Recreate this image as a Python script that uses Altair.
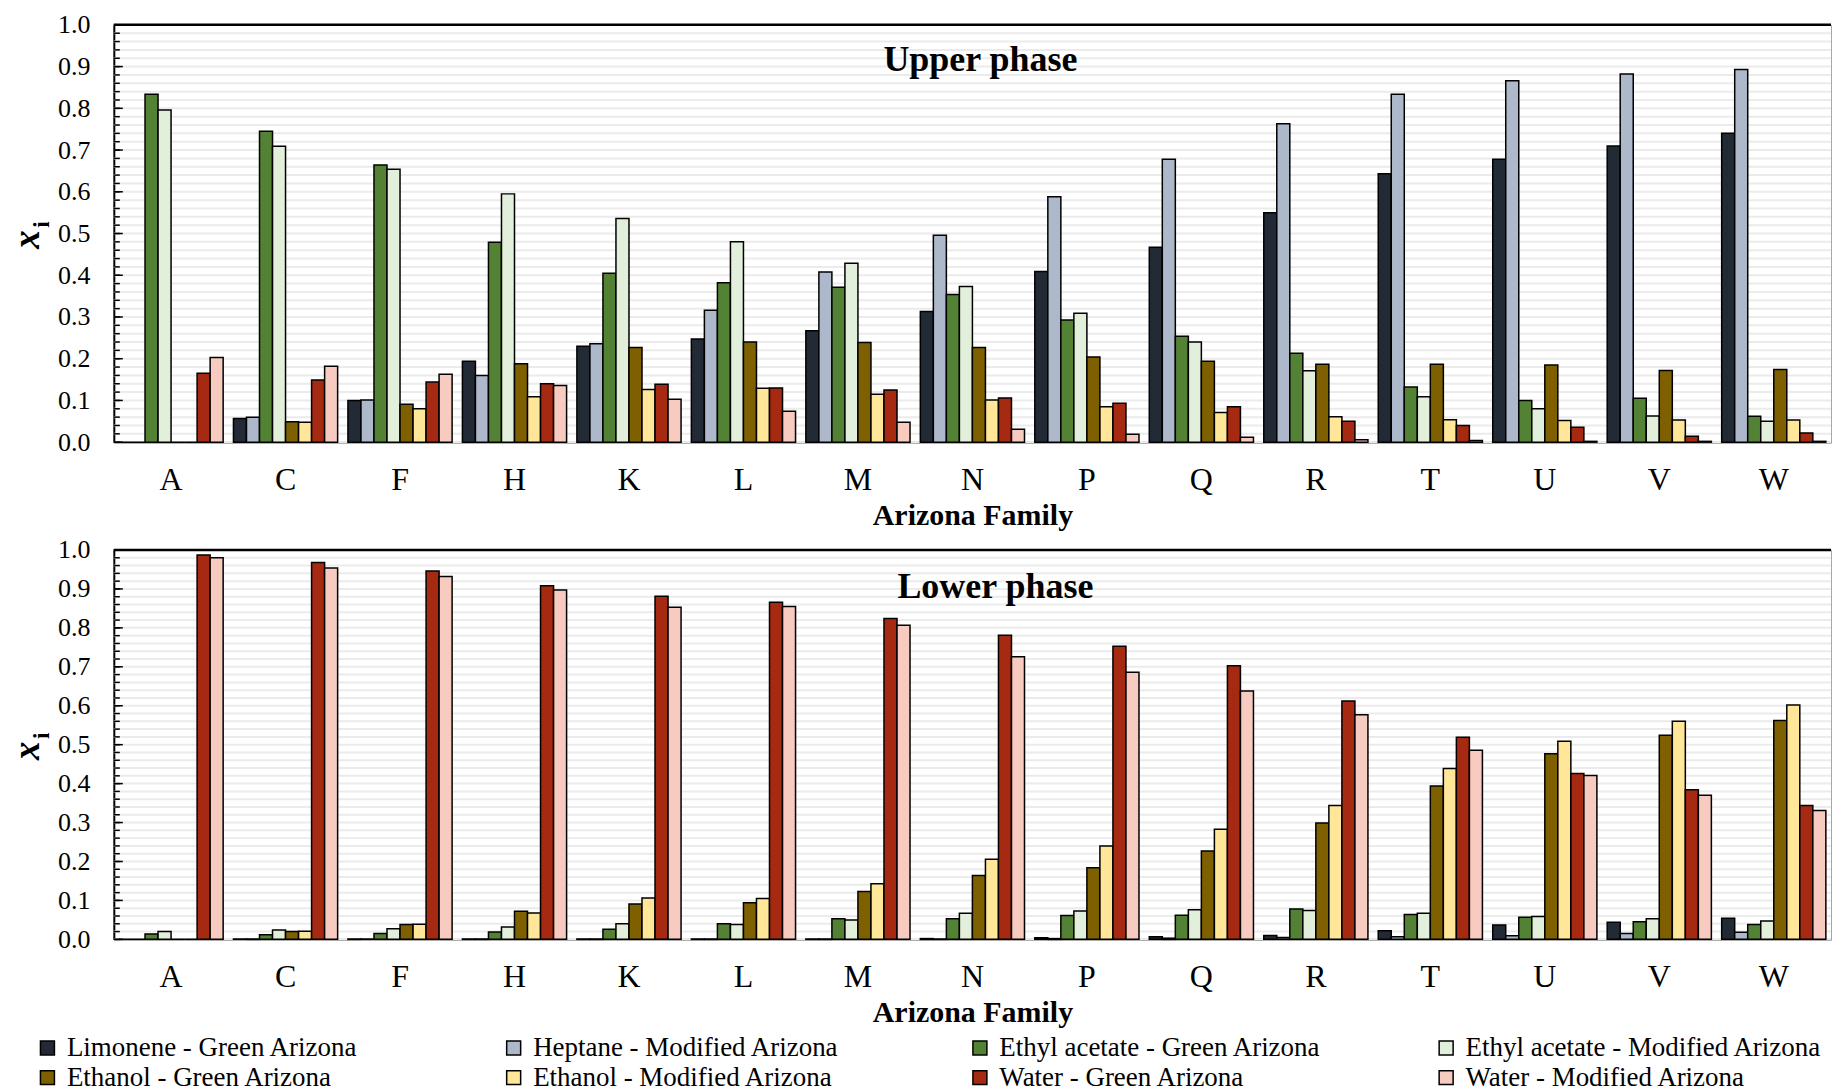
import altair as alt
import pandas as pd
import numpy as np

families = ["A", "C", "F", "H", "K", "L", "M", "N", "P", "Q", "R", "T", "U", "V", "W"]
series = [
    "Limonene - Green Arizona",
    "Heptane - Modified Arizona",
    "Ethyl acetate - Green Arizona",
    "Ethyl acetate - Modified Arizona",
    "Ethanol - Green Arizona",
    "Ethanol - Modified Arizona",
    "Water - Green Arizona",
    "Water - Modified Arizona",
]
colors = ["#222a35", "#adb9ca", "#548235", "#e2efda", "#7f6000", "#ffe699", "#a52a11", "#f8cbc0"]

# Upper phase
upper_limonene = [0.0, 0.057, 0.100, 0.194, 0.230, 0.247, 0.267, 0.313, 0.409, 0.467, 0.550, 0.643, 0.678, 0.710, 0.740]
upper_heptane = [0.0, 0.060, 0.101, 0.160, 0.236, 0.316, 0.408, 0.496, 0.588, 0.678, 0.763, 0.834, 0.866, 0.882, 0.893]
upper_ea_green = [0.834, 0.745, 0.664, 0.479, 0.405, 0.382, 0.371, 0.354, 0.293, 0.254, 0.213, 0.132, 0.100, 0.105, 0.062]
upper_ea_mod = [0.796, 0.709, 0.654, 0.595, 0.536, 0.480, 0.429, 0.373, 0.309, 0.240, 0.171, 0.109, 0.080, 0.063, 0.050]
upper_eth_green = [0.0, 0.049, 0.091, 0.188, 0.227, 0.240, 0.239, 0.227, 0.204, 0.194, 0.187, 0.187, 0.185, 0.172, 0.174]
upper_eth_mod = [0.0, 0.048, 0.080, 0.109, 0.126, 0.129, 0.115, 0.101, 0.085, 0.071, 0.061, 0.054, 0.052, 0.053, 0.053]
upper_water_green = [0.165, 0.149, 0.144, 0.140, 0.139, 0.130, 0.125, 0.106, 0.093, 0.085, 0.050, 0.040, 0.036, 0.014, 0.022]
upper_water_mod = [0.203, 0.182, 0.163, 0.136, 0.103, 0.074, 0.048, 0.031, 0.019, 0.012, 0.006, 0.004, 0.002, 0.002, 0.002]

# Lower phase
lower_limonene = [0.0, 0.001, 0.001, 0.001, 0.001, 0.001, 0.001, 0.002, 0.004, 0.007, 0.010, 0.022, 0.037, 0.044, 0.054]
lower_heptane = [0.0, 0.001, 0.001, 0.001, 0.001, 0.001, 0.001, 0.001, 0.002, 0.003, 0.005, 0.007, 0.009, 0.015, 0.018]
lower_ea_green = [0.014, 0.012, 0.015, 0.019, 0.026, 0.040, 0.053, 0.053, 0.061, 0.062, 0.078, 0.064, 0.057, 0.045, 0.038]
lower_ea_mod = [0.020, 0.024, 0.027, 0.032, 0.040, 0.038, 0.050, 0.067, 0.073, 0.076, 0.074, 0.067, 0.059, 0.053, 0.047]
lower_eth_green = [0.0, 0.020, 0.038, 0.072, 0.091, 0.094, 0.123, 0.164, 0.184, 0.227, 0.299, 0.394, 0.477, 0.524, 0.562]
lower_eth_mod = [0.0, 0.021, 0.039, 0.068, 0.106, 0.105, 0.143, 0.206, 0.240, 0.283, 0.344, 0.439, 0.509, 0.560, 0.602]
lower_water_green = [0.987, 0.968, 0.946, 0.908, 0.881, 0.866, 0.824, 0.781, 0.753, 0.703, 0.612, 0.519, 0.426, 0.384, 0.344]
lower_water_mod = [0.980, 0.954, 0.932, 0.897, 0.853, 0.855, 0.807, 0.726, 0.686, 0.638, 0.577, 0.486, 0.421, 0.370, 0.331]

upper_values = [upper_limonene, upper_heptane, upper_ea_green, upper_ea_mod,
                upper_eth_green, upper_eth_mod, upper_water_green, upper_water_mod]
lower_values = [lower_limonene, lower_heptane, lower_ea_green, lower_ea_mod,
                lower_eth_green, lower_eth_mod, lower_water_green, lower_water_mod]

FONT = "Liberation Serif"
W = 1720


def long_df(values):
    rows = []
    for s, vals in zip(series, values):
        for f, v in zip(families, vals):
            rows.append({"family": f, "series": s, "value": v})
    return pd.DataFrame(rows)


grid_df = pd.DataFrame({"value": np.round(np.arange(0, 1.0001, 0.02), 2)})
major_df = pd.DataFrame({"value": np.round(np.arange(0, 1.0001, 0.1), 1)})
one_df = pd.DataFrame({"k": [0]})


def panel(values, height, title_text, tx, ty):
    y_enc = alt.Y(
        "value:Q",
        scale=alt.Scale(domain=[0, 1], nice=False),
        axis=alt.Axis(
            values=list(major_df["value"]), format=".1f", title=None, grid=False,
            ticks=False, domainColor="black", domainWidth=2, labelFont=FONT,
            labelFontSize=26, labelColor="black", labelPadding=24,
        ),
    )
    grid = alt.Chart(grid_df).mark_rule(color="#ebebeb", strokeWidth=2).encode(y=y_enc)
    bars = alt.Chart(long_df(values)).mark_bar(stroke="black", strokeWidth=1.5).encode(
        x=alt.X(
            "family:N", sort=families,
            scale=alt.Scale(paddingInner=0.09, paddingOuter=0.045),
            axis=alt.Axis(
                title="Arizona Family", labelAngle=0, ticks=False, domainColor="#7f7f7f",
                domainWidth=2, labelFont=FONT, labelFontSize=32, labelColor="black",
                labelPadding=22, titleFont=FONT, titleFontSize=30, titleFontWeight="bold",
                titleColor="black", titlePadding=5,
            ),
        ),
        xOffset=alt.XOffset("series:N", sort=series),
        y=y_enc,
        color=alt.Color(
            "series:N", sort=series,
            scale=alt.Scale(domain=series, range=colors),
            legend=alt.Legend(
                title=None, orient="none", legendX=-80, legendY=1011, columns=4,
                gridAlign="all", columnPadding=77, rowPadding=2,
                labelFont=FONT, labelFontSize=27, labelColor="black", labelLimit=0,
                labelOffset=6, symbolType="square", symbolSize=196,
                symbolStrokeColor="black", symbolStrokeWidth=1.5, symbolOpacity=1,
                direction="horizontal",
            ),
        ),
    )
    minor_ticks = alt.Chart(grid_df).mark_rule(color="black", strokeWidth=1.5).encode(
        y=y_enc, x=alt.value(0), x2=alt.value(6))
    major_ticks = alt.Chart(major_df).mark_rule(color="black", strokeWidth=1.5).encode(
        y=y_enc, x=alt.value(0), x2=alt.value(9))
    top_border = alt.Chart(one_df).mark_rule(color="black", strokeWidth=2.5).encode(
        x=alt.value(0), x2=alt.value(W), y=alt.value(0))
    title = alt.Chart(one_df).mark_text(
        text=title_text, font=FONT, fontSize=36, fontWeight="bold", color="black",
        align="center", baseline="middle").encode(x=alt.value(tx), y=alt.value(ty))
    xlab = alt.Chart(one_df).mark_text(
        text="x", font=FONT, fontSize=37, fontWeight="bold", fontStyle="italic",
        color="black", align="center", baseline="middle", angle=270).encode(
        x=alt.value(-86), y=alt.value(height / 2 + 6))
    ilab = alt.Chart(one_df).mark_text(
        text="i", font=FONT, fontSize=23, fontWeight="bold",
        color="black", align="center", baseline="middle", angle=270).encode(
        x=alt.value(-72), y=alt.value(height / 2 - 9))
    return alt.layer(grid, bars, minor_ticks, major_ticks, top_border, title, xlab, ilab).properties(
        width=W, height=height)


upper = panel(upper_values, 418, "Upper phase", 868, 35)
lower = panel(lower_values, 390, "Lower phase", 883, 37)

chart = alt.vconcat(upper, lower, spacing=5).properties(
    padding={"left": 0, "top": 2, "right": 0, "bottom": 0}
).configure(font=FONT).configure_axis(labelFont=FONT, titleFont=FONT).configure_legend(
    labelFont=FONT).configure_view(stroke="#a6a6a6", strokeWidth=1).configure_scale(
    offsetBandPaddingInner=0, offsetBandPaddingOuter=0)

chart.save("out.html", embed_options={"renderer": "svg", "actions": False})
